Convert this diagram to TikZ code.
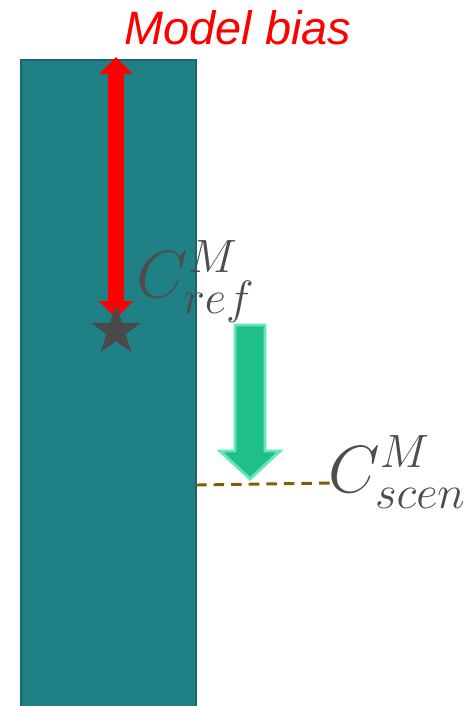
\RequirePackage{fix-cm}
\documentclass[tikz,border=0pt]{standalone}
\usepackage[no-math]{fontspec}
\newfontfamily\arialfont{Liberation Sans}
\usetikzlibrary{arrows.meta,shapes.geometric}
\definecolor{barteal}{HTML}{1F8085}
\definecolor{barline}{HTML}{17676B}
\definecolor{stargray}{HTML}{4A4A4A}
\definecolor{labgray}{HTML}{4D4D4D}
\definecolor{shiftgreen}{HTML}{20BF88}
\definecolor{shiftline}{HTML}{66E6BC}
\definecolor{levelbrown}{HTML}{7F6000}
\begin{document}
\begin{tikzpicture}[x=0.03cm,y=-0.03cm,line cap=butt,line join=miter,
    biasarrow/.style={red,line width=14.5pt,
      {Triangle[width=28pt,length=14.5pt]}-{Triangle[width=28pt,length=14.5pt]}},
    lab/.style={text=labgray,inner sep=0pt,font=\fontsize{57}{60}\selectfont}]
    \useasboundingbox (0,0) rectangle (470,706);
    % model bar
    \fill[barteal,draw=barline,line width=1.5pt] (21,60) rectangle (196,712);
    \coordinate (bartop) at (116,57);
    \coordinate (refpt) at (116,331);
    \draw[biasarrow] (bartop) -- ([yshift=11pt]refpt);
    \node[star,star points=5,star point ratio=2.618,fill=stargray,
      inner sep=0pt,minimum size=45pt] (ref) at (refpt) {};
    \node[lab,anchor=base west] (reflab) at (136,297) {$C^M_{ref}$};
    \node[red,anchor=base,font=\arialfont\itshape\fontsize{40}{44}\selectfont]
      (bias) at (238,45) {Model bias};
    % scenario shift
    \draw[shiftline,fill=shiftgreen,line width=2.5pt]
      (235,325) -- (265,325) -- (265,451) -- (280,451) -- (250,479)
      -- (220,451) -- (235,451) -- cycle;
    \coordinate (barlvl) at (196,485);
    \coordinate (scenlvl) at (333,483);
    \draw[levelbrown,line width=2.5pt,dash pattern=on 9pt off 6pt] (barlvl) -- (scenlvl);
    \node[lab,anchor=base west] (scenlab) at (328,492) {$C^M_{scen}$};
\end{tikzpicture}
\end{document}
